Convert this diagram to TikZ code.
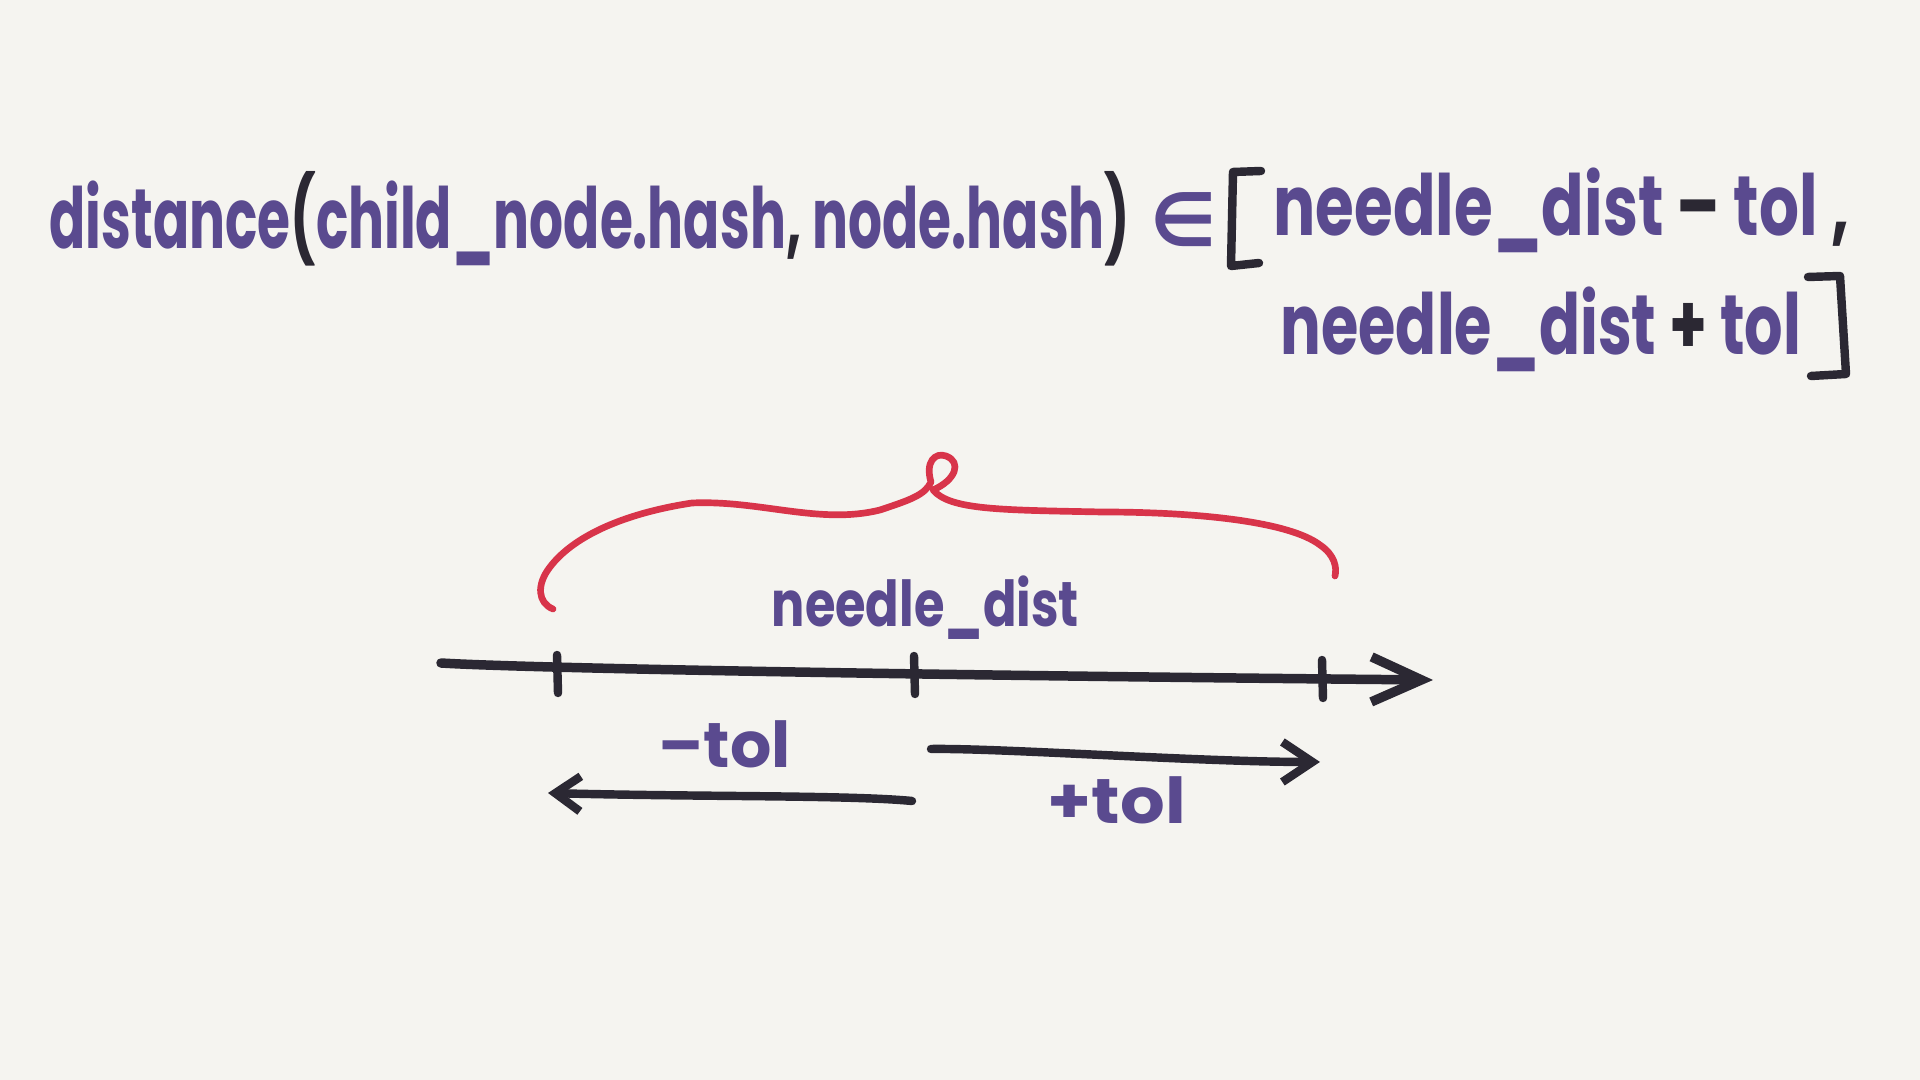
\documentclass[tikz,border=0pt]{standalone}
\usepackage{fontspec}
\setmainfont{Poppins}
\newfontfamily\symfont{DejaVu Sans}
\usepackage{graphicx}
\usepackage{xcolor}
\usetikzlibrary{arrows.meta,positioning,calc}

\definecolor{paper}{HTML}{F5F4F0}
\definecolor{ink}{HTML}{2B2833}
\definecolor{violet}{HTML}{5A4A8F}
\definecolor{marker}{HTML}{D8344A}

\newcommand{\dk}[1]{\textcolor{ink}{#1}}

\tikzset{
  formula/.style={text=violet, inner sep=0pt, font=\fontsize{24}{28}\selectfont\bfseries},
  axisname/.style={text=violet, inner sep=0pt, font=\fontsize{18}{22}\selectfont\bfseries},
  inkline/.style={draw=ink, line width=2.4pt, line cap=round, line join=round},
  bracestroke/.style={draw=marker, line width=1.9pt, line cap=round, line join=round},
}

\begin{document}
\begin{tikzpicture}[x=0.01cm, y=-0.01cm]
	\fill[paper] (0,0) rectangle (1920,1080);
	\useasboundingbox (0,0) rectangle (1920,1080);

	% the formula
	\node[formula, anchor=base west] (lhs) at (49,249)
		{\resizebox{10.8cm}{\height}{distance\dk{(}child\_node.hash\dk{,} node.hash\dk{)}}};
	\node[formula, anchor=base west] (elem) at (1150,247)
		{\symfont\bfseries\fontsize{21}{24}\selectfont ∈};
	\node[formula, anchor=base west] (lower) at (1273,236)
		{\resizebox{5.75cm}{\height}{needle\_dist \dk{–} tol \dk{,}}};
	\node[formula, anchor=base west] (upper) at (1280,355)
		{\resizebox{5.2cm}{\height}{needle\_dist \dk{+} tol}};

	\draw[inkline] (1261,171) -- (1233,172) -- (1231,266) -- (1259,263);
	\draw[inkline] (1808,277) -- (1840,276) -- (1846,374) -- (1811,376);

	% number line
	\coordinate (axisL) at (441,663);
	\coordinate (axisR) at (1433,680);
	\draw[inkline, line width=2.7pt, -{Straight Barb[length=5mm,width=4.5mm]}] (axisL) .. controls (520,668) and (900,675) .. (axisR);

	\coordinate (lo) at (557,675);
	\coordinate (mid) at (914,676);
	\coordinate (hi) at (1322,680);
	\foreach \t in {lo,mid,hi}
		\draw[inkline] ($(\t)+(0,-20)$) -- ($(\t)+(1,18)$);

	% brace over the interval
	\draw[bracestroke] (553,609) .. controls (538,603) and (536,585) .. (550,567)
		.. controls (572,538) and (620,514) .. (692,503)
		.. controls (760,500) and (820,525) .. (880,510)
		.. controls (910,500) and (925,495) .. (931,482)
		.. controls (925,462) and (935,452) .. (946,456)
		.. controls (962,462) and (956,480) .. (933,490)
		.. controls (950,510) and (1000,510) .. (1102,512)
		.. controls (1200,512) and (1290,522) .. (1320,545)
		.. controls (1335,555) and (1337,568) .. (1335,576);

	\node[axisname, anchor=base west] (target) at (771,627)
		{\resizebox{3.07cm}{\height}{needle\_dist}};

	% tolerance arrows
	\coordinate (minusA) at (912,801);
	\coordinate (minusB) at (548,793);
	\coordinate (plusA) at (931,749);
	\coordinate (plusB) at (1320,762);
	\draw[inkline, -{Straight Barb[length=2.5mm,width=3.5mm]}] (minusA) .. controls (850,795) and (700,797) .. (minusB);
	\draw[inkline, -{Straight Barb[length=3mm,width=4mm]}] (plusA) .. controls (1000,748) and (1200,762) .. (plusB);

	\node[axisname, anchor=base west] (minustol) at (658,768)
		{\resizebox{1.32cm}{\height}{–tol}};
	\node[axisname, anchor=base west] (plustol) at (1047,824)
		{\resizebox{1.38cm}{\height}{+tol}};
\end{tikzpicture}
\end{document}
